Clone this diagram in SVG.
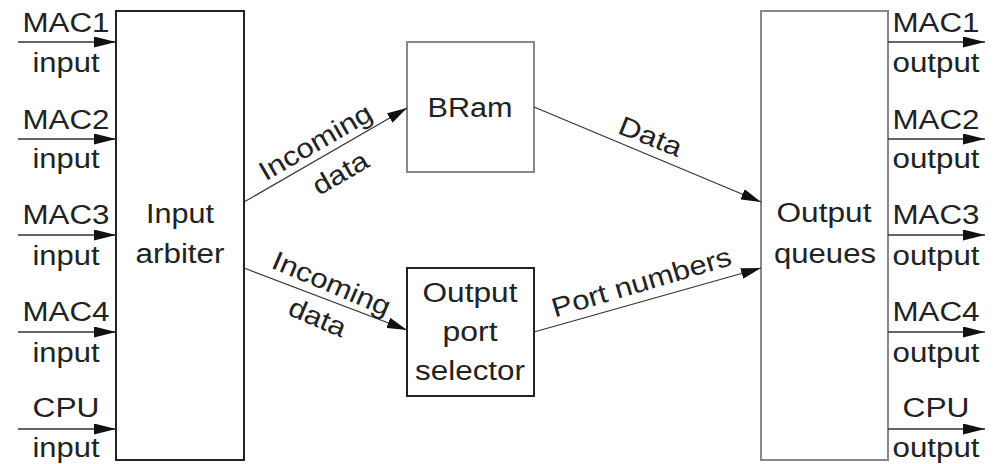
<svg xmlns="http://www.w3.org/2000/svg" width="997" height="464" viewBox="0 0 997 464">
<style>
text{font-family:"Liberation Sans",Arial,sans-serif;font-size:27px;fill:#222;text-anchor:middle}
.box{fill:#fff;stroke-width:2}
.dark{stroke:#222}
.gray{stroke:#888}
.io{stroke:#333;stroke-width:1.5;fill:none}
.diag{stroke:#333;stroke-width:1.2;fill:none}
</style>
<defs>
<marker id="ah" viewBox="0 0 22 11" refX="22" refY="5.5" markerWidth="22" markerHeight="11" markerUnits="userSpaceOnUse" orient="auto">
<path d="M0,0 L22,5.5 L0,11 Z" fill="#111"/>
</marker>
<marker id="ah2" viewBox="0 0 20 11" refX="20" refY="5.5" markerWidth="20" markerHeight="11" markerUnits="userSpaceOnUse" orient="auto">
<path d="M0,0 L20,5.5 L0,11 Z" fill="#111"/>
</marker>
</defs>

<g id="input-arbiter">
<rect class="box dark" x="116" y="11" width="128" height="449"/>
<text x="180" y="223" textLength="68" lengthAdjust="spacingAndGlyphs">Input</text>
<text x="180" y="263" textLength="89" lengthAdjust="spacingAndGlyphs">arbiter</text>
</g>

<g id="bram">
<rect class="box gray" x="407" y="42" width="127" height="130"/>
<text x="470" y="117" textLength="85" lengthAdjust="spacingAndGlyphs">BRam</text>
</g>

<g id="output-port-selector">
<rect class="box dark" x="407" y="268" width="127" height="128"/>
<text x="470" y="302" textLength="95" lengthAdjust="spacingAndGlyphs">Output</text>
<text x="470" y="341" textLength="55" lengthAdjust="spacingAndGlyphs">port</text>
<text x="470" y="380" textLength="110" lengthAdjust="spacingAndGlyphs">selector</text>
</g>

<g id="output-queues">
<rect class="box gray" x="761" y="11" width="127" height="449"/>
<text x="824" y="222" textLength="95" lengthAdjust="spacingAndGlyphs">Output</text>
<text x="825" y="263" textLength="102" lengthAdjust="spacingAndGlyphs">queues</text>
</g>

<g id="connectors">
<line class="io" x1="18" y1="42" x2="116" y2="42" marker-end="url(#ah)"/>
<line class="io" x1="18" y1="139" x2="116" y2="139" marker-end="url(#ah)"/>
<line class="io" x1="18" y1="235" x2="116" y2="235" marker-end="url(#ah)"/>
<line class="io" x1="18" y1="332" x2="116" y2="332" marker-end="url(#ah)"/>
<line class="io" x1="18" y1="429" x2="116" y2="429" marker-end="url(#ah)"/>

<line class="io" x1="888" y1="42" x2="985" y2="42" marker-end="url(#ah)"/>
<line class="io" x1="888" y1="139" x2="985" y2="139" marker-end="url(#ah)"/>
<line class="io" x1="888" y1="235" x2="985" y2="235" marker-end="url(#ah)"/>
<line class="io" x1="888" y1="332" x2="985" y2="332" marker-end="url(#ah)"/>
<line class="io" x1="888" y1="429" x2="985" y2="429" marker-end="url(#ah)"/>

<line class="diag" x1="244" y1="202" x2="407" y2="108" marker-end="url(#ah2)"/>
<line class="diag" x1="244" y1="268" x2="407" y2="330" marker-end="url(#ah2)"/>
<line class="diag" x1="534" y1="107" x2="761" y2="202" marker-end="url(#ah2)"/>
<line class="diag" x1="534" y1="332" x2="761" y2="268" marker-end="url(#ah2)"/>

<text transform="translate(320,150) rotate(-30)" textLength="126" lengthAdjust="spacingAndGlyphs">Incoming</text>
<text transform="translate(345,181) rotate(-30)" textLength="60" lengthAdjust="spacingAndGlyphs">data</text>
<text transform="translate(328,292) rotate(23)" textLength="126" lengthAdjust="spacingAndGlyphs">Incoming</text>
<text transform="translate(314,326) rotate(23)" textLength="60" lengthAdjust="spacingAndGlyphs">data</text>
<text transform="translate(647,145) rotate(22)" textLength="66" lengthAdjust="spacingAndGlyphs">Data</text>
<text transform="translate(644,291) rotate(-16.5)" textLength="186" lengthAdjust="spacingAndGlyphs">Port numbers</text>
</g>

<g id="input-labels">
<text x="66" y="32" textLength="87" lengthAdjust="spacingAndGlyphs">MAC1</text>
<text x="66" y="72" textLength="67" lengthAdjust="spacingAndGlyphs">input</text>
<text x="66" y="129" textLength="87" lengthAdjust="spacingAndGlyphs">MAC2</text>
<text x="66" y="168" textLength="67" lengthAdjust="spacingAndGlyphs">input</text>
<text x="66" y="224" textLength="87" lengthAdjust="spacingAndGlyphs">MAC3</text>
<text x="66" y="265" textLength="67" lengthAdjust="spacingAndGlyphs">input</text>
<text x="66" y="321" textLength="87" lengthAdjust="spacingAndGlyphs">MAC4</text>
<text x="66" y="362" textLength="67" lengthAdjust="spacingAndGlyphs">input</text>
<text x="66" y="417" textLength="67" lengthAdjust="spacingAndGlyphs">CPU</text>
<text x="66" y="457" textLength="67" lengthAdjust="spacingAndGlyphs">input</text>
</g>

<g id="output-labels">
<text x="936" y="32" textLength="87" lengthAdjust="spacingAndGlyphs">MAC1</text>
<text x="936" y="72" textLength="87" lengthAdjust="spacingAndGlyphs">output</text>
<text x="936" y="129" textLength="87" lengthAdjust="spacingAndGlyphs">MAC2</text>
<text x="936" y="168" textLength="87" lengthAdjust="spacingAndGlyphs">output</text>
<text x="936" y="224" textLength="87" lengthAdjust="spacingAndGlyphs">MAC3</text>
<text x="936" y="265" textLength="87" lengthAdjust="spacingAndGlyphs">output</text>
<text x="936" y="321" textLength="87" lengthAdjust="spacingAndGlyphs">MAC4</text>
<text x="936" y="362" textLength="87" lengthAdjust="spacingAndGlyphs">output</text>
<text x="936" y="417" textLength="67" lengthAdjust="spacingAndGlyphs">CPU</text>
<text x="936" y="457" textLength="87" lengthAdjust="spacingAndGlyphs">output</text>
</g>
</svg>
